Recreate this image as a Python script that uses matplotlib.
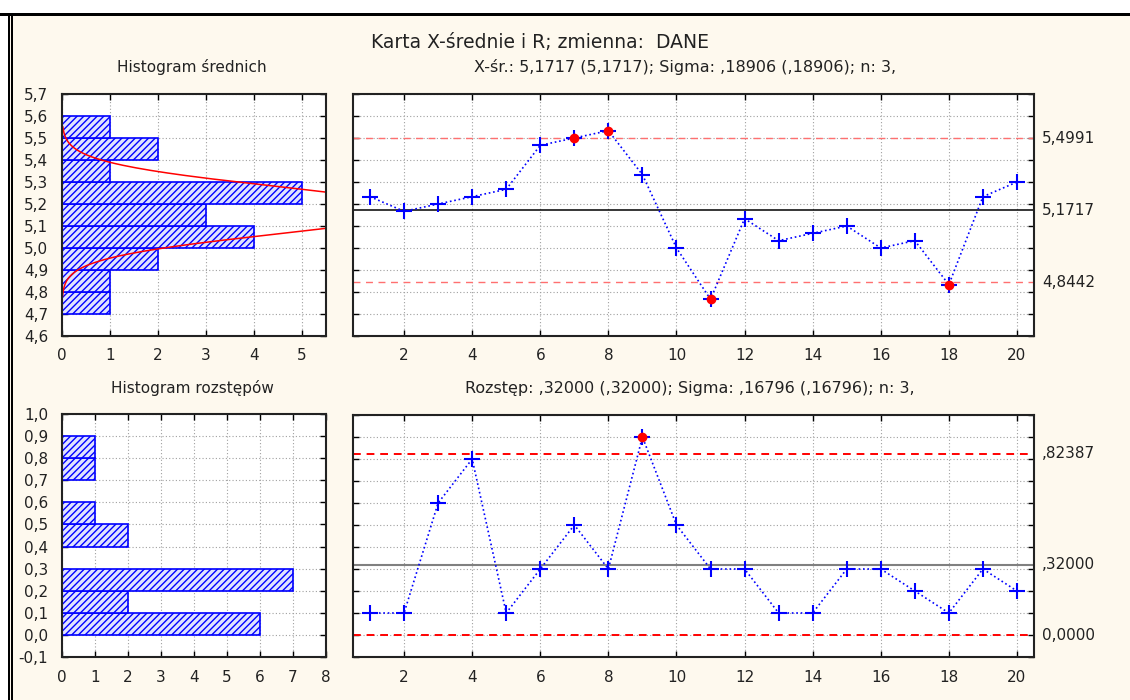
import matplotlib
matplotlib.use('Agg')
import matplotlib.pyplot as plt
import numpy as np
from matplotlib.patches import Rectangle
from matplotlib.ticker import FuncFormatter, MultipleLocator

plt.rcParams['font.family'] = ['DejaVu Sans']
plt.rcParams['font.size'] = 10
plt.rcParams['hatch.linewidth'] = 1.0

# dane: średnie i rozstępy 20 próbek (n = 3)
probki = np.arange(1, 21)
srednie = [5.2333, 5.1667, 5.2000, 5.2333, 5.2667, 5.4667, 5.5000, 5.5333, 5.3333, 5.0000,
           4.7667, 5.1333, 5.0333, 5.0667, 5.1000, 5.0000, 5.0333, 4.8333, 5.2333, 5.3000]
rozstepy = [0.1, 0.1, 0.6, 0.8, 0.1, 0.3, 0.5, 0.3, 0.9, 0.5,
            0.3, 0.3, 0.1, 0.1, 0.3, 0.3, 0.2, 0.1, 0.3, 0.2]

# histogramy (dolne granice przedziałów i liczności)
hist_sr_od = [4.7, 4.8, 4.9, 5.0, 5.1, 5.2, 5.3, 5.4, 5.5]
hist_sr_n = [1, 1, 2, 4, 3, 5, 1, 2, 1]
hist_r_od = [0.0, 0.1, 0.2, 0.3, 0.4, 0.5, 0.6, 0.7, 0.8]
hist_r_n = [6, 2, 7, 0, 2, 1, 0, 1, 1]

# parametry kart
x_sr = 5.1717
sigma_x = 0.18906
n = 3
x_ucl, x_lcl = 5.4991, 4.8442
r_sr = 0.32000
sigma_r = 0.16796
r_ucl, r_lcl = 0.82387, 0.0

W, H = 1130, 700
BG = '#fef9ee'
TXT = '#222222'
fig = plt.figure(figsize=(W / 100, H / 100), dpi=100, facecolor=BG)


def ax_px(l, t, r, b):
    return fig.add_axes([l / W, 1 - b / H, (r - l) / W, (b - t) / H])


def napis(x, y, s, size):
    fig.text(x / W, 1 - y / H, s, ha='center', va='center', fontsize=size, color=TXT)


def przecinek(v, pos):
    s = f'{v:.1f}'
    if s == '-0.0':
        s = '0.0'
    return s.replace('.', ',')


def styl(ax):
    ax.set_facecolor('white')
    ax.grid(True, color='#a0a0a0', linestyle=(0, (1, 2)), linewidth=0.8)
    ax.set_axisbelow(True)
    ax.tick_params(direction='in', length=4, width=1, colors='black', labelsize=11,
                   top=True, right=True, labelcolor=TXT)
    ax.tick_params(axis='x', pad=9)
    ax.tick_params(axis='y', pad=10)
    for s in ax.spines.values():
        s.set_linewidth(1.5)
        s.set_color(TXT)


# ramka
fig.add_artist(Rectangle((0, 1 - 13 / H), 1, 13 / H, transform=fig.transFigure,
                         facecolor='white', edgecolor='none'))
fig.add_artist(Rectangle((0, 0), 8 / W, 1, transform=fig.transFigure,
                         facecolor='white', edgecolor='none'))
fig.add_artist(Rectangle((0, 1 - 16 / H), 1, 3 / H, transform=fig.transFigure,
                         facecolor='black', edgecolor='none'))
fig.add_artist(Rectangle((8 / W, 0), 1.6 / W, 1 - 13 / H, transform=fig.transFigure,
                         facecolor='black', edgecolor='none'))
fig.add_artist(Rectangle((11 / W, 0), 1.6 / W, 1 - 13 / H, transform=fig.transFigure,
                         facecolor='black', edgecolor='none'))

napis(540, 42, 'Karta X-średnie i R; zmienna:  DANE', 13.5)
napis(192, 67, 'Histogram średnich', 11)
napis(685, 67, 'X-śr.: 5,1717 (5,1717); Sigma: ,18906 (,18906); n: 3,', 11.5)
napis(192, 388, 'Histogram rozstępów', 11)
napis(690, 388, 'Rozstęp: ,32000 (,32000); Sigma: ,16796 (,16796); n: 3,', 11.5)

# --- histogram średnich
ax1 = ax_px(62, 94, 326, 336)
styl(ax1)
ax1.barh(hist_sr_od, hist_sr_n, height=0.1, align='edge', facecolor='#dfe2ff',
         edgecolor='blue', hatch='/////', linewidth=1.2)
sig_sr = sigma_x / np.sqrt(n)
yy = np.linspace(4.78, 5.55, 200)
krzywa = len(srednie) * 0.1 / (sig_sr * np.sqrt(2 * np.pi)) * np.exp(-0.5 * ((yy - x_sr) / sig_sr) ** 2)
ax1.plot(krzywa, yy, color='red', linewidth=1.1)
ax1.set_xlim(0, 5.5)
ax1.set_ylim(4.6, 5.7)
ax1.xaxis.set_major_locator(MultipleLocator(1))
ax1.yaxis.set_major_locator(MultipleLocator(0.1))
ax1.yaxis.set_major_formatter(FuncFormatter(przecinek))
ax1.xaxis.set_major_formatter(FuncFormatter(lambda v, p: f'{v:.0f}'))

# --- karta średnich
ax2 = ax_px(353, 94, 1034, 336)
styl(ax2)
ax2.axhline(x_ucl, color='#ff7070', linestyle=(0, (5, 4)), linewidth=1)
ax2.axhline(x_lcl, color='#ff7070', linestyle=(0, (5, 4)), linewidth=1)
ax2.axhline(x_sr, color='black', linewidth=1.1)
ax2.plot(probki, srednie, color='blue', linestyle=':', linewidth=1.2,
         marker='+', markersize=11, markeredgewidth=1.5)
sr_arr = np.array(srednie)
poza = (sr_arr > x_ucl) | (sr_arr < x_lcl)
ax2.plot(probki[poza], sr_arr[poza], 'o', color='red', markersize=6, zorder=5)
ax2.set_xlim(0.5, 20.5)
ax2.set_ylim(4.6, 5.7)
ax2.xaxis.set_major_locator(MultipleLocator(2))
ax2.yaxis.set_major_locator(MultipleLocator(0.1))
ax2.tick_params(labelleft=False)
for v, s in [(x_ucl, '5,4991'), (x_sr, '5,1717'), (x_lcl, '4,8442')]:
    ax2.text(1.012, v, s, transform=ax2.get_yaxis_transform(), va='center', ha='left',
             fontsize=11, color=TXT)

# --- histogram rozstępów
ax3 = ax_px(62, 414, 326, 657)
styl(ax3)
ax3.barh(hist_r_od, hist_r_n, height=0.1, align='edge', facecolor='#dfe2ff',
         edgecolor='blue', hatch='/////', linewidth=1.2)
ax3.set_xlim(0, 8)
ax3.set_ylim(-0.1, 1.0)
ax3.xaxis.set_major_locator(MultipleLocator(1))
ax3.yaxis.set_major_locator(MultipleLocator(0.1))
ax3.yaxis.set_major_formatter(FuncFormatter(przecinek))
ax3.xaxis.set_major_formatter(FuncFormatter(lambda v, p: f'{v:.0f}'))

# --- karta rozstępów
ax4 = ax_px(353, 415, 1034, 657)
styl(ax4)
ax4.axhline(r_ucl, color='red', linestyle=(0, (4, 3)), linewidth=1.4)
ax4.axhline(r_lcl, color='red', linestyle=(0, (4, 3)), linewidth=1.4)
ax4.axhline(r_sr, color='#808080', linewidth=1.5)
ax4.plot(probki, rozstepy, color='blue', linestyle=':', linewidth=1.2,
         marker='+', markersize=11, markeredgewidth=1.5)
r_arr = np.array(rozstepy)
poza_r = r_arr > r_ucl
ax4.plot(probki[poza_r], r_arr[poza_r], 'o', color='red', markersize=6, zorder=5)
ax4.set_xlim(0.5, 20.5)
ax4.set_ylim(-0.1, 1.0)
ax4.xaxis.set_major_locator(MultipleLocator(2))
ax4.yaxis.set_major_locator(MultipleLocator(0.1))
ax4.tick_params(labelleft=False)
for v, s in [(r_ucl, ',82387'), (r_sr, ',32000'), (r_lcl, '0,0000')]:
    ax4.text(1.012, v, s, transform=ax4.get_yaxis_transform(), va='center', ha='left',
             fontsize=11, color=TXT)

fig.savefig('out.png', dpi=100, facecolor=BG)
